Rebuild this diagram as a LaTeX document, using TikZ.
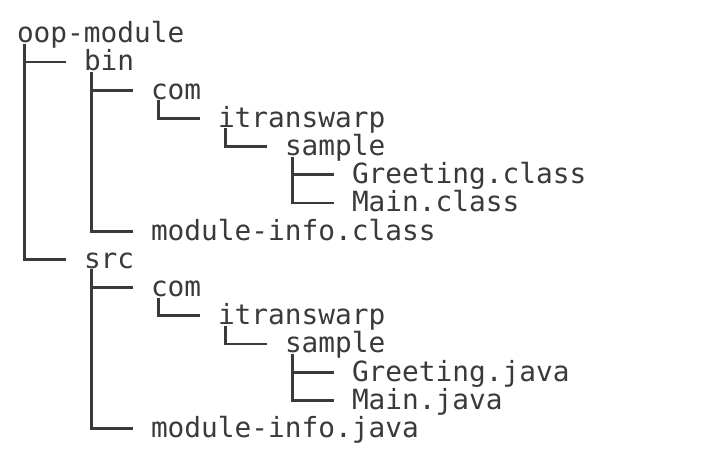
\documentclass[tikz,border=0pt]{standalone}
\usepackage{fontspec}
\setmonofont{DejaVu Sans Mono}
\usetikzlibrary{calc}
\definecolor{ink}{HTML}{3A3A3A}
\tikzset{
  entry/.style={anchor=base west, inner sep=0pt, outer sep=0pt, text=ink,
    font=\ttfamily\fontsize{27.8}{28}\selectfont},
  treeline/.style={draw=ink, line width=2.8pt, line join=miter}
}
\newcommand{\branch}[2]{\draw[treeline] ($(#1.base west)+(7.5,1)$) |- ($(#2.base west)+(-18,-9)$);}
\begin{document}
\begin{tikzpicture}[x=1pt,y=-1pt]
\useasboundingbox (0,0) rectangle (706,464);
\def\bl#1{42.7+28.2*#1}
\node[entry] (root) at (17,{\bl{0}}) {oop-module};
\node[entry] (bin) at (84,{\bl{1}}) {bin};
\node[entry] (bcom) at (151,{\bl{2}}) {com};
\node[entry] (bit) at (218,{\bl{3}}) {itranswarp};
\node[entry] (bsam) at (285,{\bl{4}}) {sample};
\node[entry] (bgre) at (352,{\bl{5}}) {Greeting.class};
\node[entry] (bmain) at (352,{\bl{6}}) {Main.class};
\node[entry] (bmod) at (151,{\bl{7}}) {module-info.class};
\node[entry] (src) at (84,{\bl{8}}) {src};
\node[entry] (scom) at (151,{\bl{9}}) {com};
\node[entry] (sit) at (218,{\bl{10}}) {itranswarp};
\node[entry] (ssam) at (285,{\bl{11}}) {sample};
\node[entry] (sgre) at (352,{\bl{12}}) {Greeting.java};
\node[entry] (smain) at (352,{\bl{13}}) {Main.java};
\node[entry] (smod) at (151,{\bl{14}}) {module-info.java};
\branch{root}{bin}
\branch{root}{src}
\branch{bin}{bcom}
\branch{bin}{bmod}
\branch{bcom}{bit}
\branch{bit}{bsam}
\branch{bsam}{bgre}
\branch{bsam}{bmain}
\branch{src}{scom}
\branch{src}{smod}
\branch{scom}{sit}
\branch{sit}{ssam}
\branch{ssam}{sgre}
\branch{ssam}{smain}
\end{tikzpicture}
\end{document}
